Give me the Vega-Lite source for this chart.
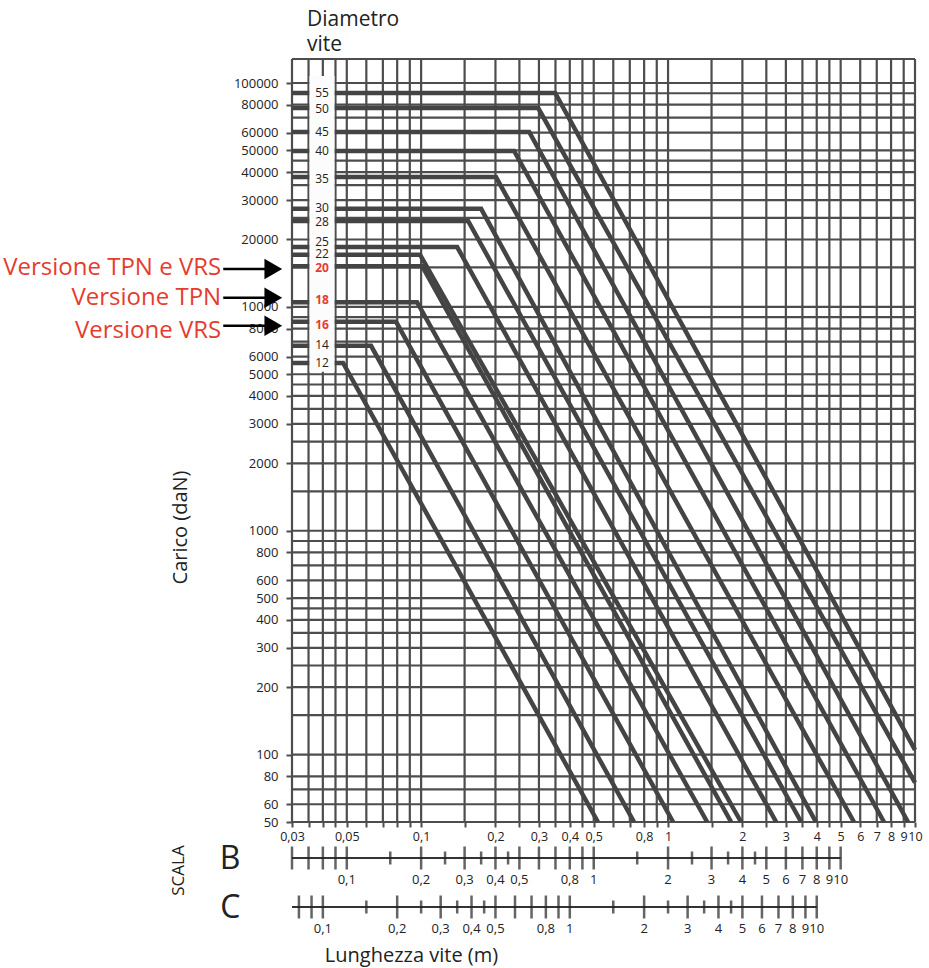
{
  "$schema": "https://vega.github.io/schema/vega-lite/v6.json",
  "width": 623,
  "height": 763,
  "autosize": {"type": "none"},
  "padding": {"left": 292, "top": 59, "right": 14, "bottom": 146},
  "background": "white",
  "config": {"view": {"stroke": null}, "font": "Open Sans", "text": {"font": "Open Sans"}},
  "title": {"text": ["Diametro", "vite"], "anchor": "start", "frame": "group", "dx": 15, "offset": 3, "fontSize": 21, "fontWeight": "normal", "font": "Open Sans", "color": "#222222", "lineHeight": 25},
  "datasets": {
    "vgrid": [{"L":0.03},{"L":0.035},{"L":0.04},{"L":0.045},{"L":0.05},{"L":0.06},{"L":0.07},{"L":0.08},{"L":0.09},{"L":0.1},{"L":0.15},{"L":0.2},{"L":0.25},{"L":0.3},{"L":0.35},{"L":0.4},{"L":0.45},{"L":0.5},{"L":0.6},{"L":0.7},{"L":0.8},{"L":0.9},{"L":1},{"L":1.5},{"L":2},{"L":2.5},{"L":3},{"L":3.5},{"L":4},{"L":4.5},{"L":5},{"L":6},{"L":7},{"L":8},{"L":9},{"L":10}],
    "hgrid": [{"P":50},{"P":60},{"P":70},{"P":80},{"P":100},{"P":150},{"P":200},{"P":250},{"P":300},{"P":350},{"P":400},{"P":450},{"P":500},{"P":600},{"P":700},{"P":800},{"P":900},{"P":1000},{"P":1500},{"P":2000},{"P":2500},{"P":3000},{"P":3500},{"P":4000},{"P":4500},{"P":5000},{"P":6000},{"P":7000},{"P":8000},{"P":9000},{"P":10000},{"P":15000},{"P":20000},{"P":25000},{"P":30000},{"P":35000},{"P":40000},{"P":45000},{"P":50000},{"P":60000},{"P":70000},{"P":80000},{"P":90000},{"P":100000},{"P":128000}],
    "curves": [
      {"d":55,"i":0,"L":0.03,"P":90200},{"d":55,"i":1,"L":0.349,"P":90200},{"d":55,"i":2,"L":10,"P":105},
      {"d":50,"i":0,"L":0.03,"P":77300},{"d":50,"i":1,"L":0.298,"P":77300},{"d":50,"i":2,"L":10,"P":75},
      {"d":45,"i":0,"L":0.03,"P":60400},{"d":45,"i":1,"L":0.274,"P":60400},{"d":45,"i":2,"L":9.37,"P":50},
      {"d":40,"i":0,"L":0.03,"P":49700},{"d":40,"i":1,"L":0.238,"P":49700},{"d":40,"i":2,"L":7.49,"P":50},
      {"d":35,"i":0,"L":0.03,"P":38000},{"d":35,"i":1,"L":0.201,"P":38000},{"d":35,"i":2,"L":5.66,"P":50},
      {"d":30,"i":0,"L":0.03,"P":27400},{"d":30,"i":1,"L":0.175,"P":27400},{"d":30,"i":2,"L":3.97,"P":50},
      {"d":28,"i":0,"L":0.03,"P":24200},{"d":28,"i":1,"L":0.155,"P":24200},{"d":28,"i":2,"L":3.46,"P":50},
      {"d":25,"i":0,"L":0.03,"P":18500},{"d":25,"i":1,"L":0.14,"P":18500},{"d":25,"i":2,"L":2.74,"P":50},
      {"d":22,"i":0,"L":0.03,"P":17100},{"d":22,"i":1,"L":0.099,"P":17100},{"d":22,"i":2,"L":1.975,"P":50},
      {"d":20,"i":0,"L":0.03,"P":15200},{"d":20,"i":1,"L":0.101,"P":15200},{"d":20,"i":2,"L":1.8,"P":50},
      {"d":18,"i":0,"L":0.03,"P":10500},{"d":18,"i":1,"L":0.0963,"P":10500},{"d":18,"i":2,"L":1.44,"P":50},
      {"d":16,"i":0,"L":0.03,"P":8570},{"d":16,"i":1,"L":0.0792,"P":8570},{"d":16,"i":2,"L":1.048,"P":50},
      {"d":14,"i":0,"L":0.03,"P":6700},{"d":14,"i":1,"L":0.0627,"P":6700},{"d":14,"i":2,"L":0.728,"P":50},
      {"d":12,"i":0,"L":0.03,"P":5620},{"d":12,"i":1,"L":0.0483,"P":5620},{"d":12,"i":2,"L":0.52,"P":50}
    ],
    "column": [{"L":0.0353,"L2":0.0446,"P":5130,"P2":107500}],
    "dlabels": [
      {"t":"55","L":0.0397,"P":90240,"r":0},{"t":"50","L":0.0397,"P":76550,"r":0},{"t":"45","L":0.0397,"P":60420,"r":0},{"t":"40","L":0.0397,"P":49720,"r":0},{"t":"35","L":0.0397,"P":37270,"r":0},{"t":"30","L":0.0397,"P":27670,"r":0},{"t":"28","L":0.0397,"P":23960,"r":0},{"t":"25","L":0.0397,"P":19510,"r":0},{"t":"22","L":0.0397,"P":17240,"r":0},{"t":"20","L":0.0397,"P":14930,"r":1},{"t":"18","L":0.0397,"P":10750,"r":1},{"t":"16","L":0.0397,"P":8310,"r":1},{"t":"14","L":0.0397,"P":6767,"r":0},{"t":"12","L":0.0397,"P":5620,"r":0}
    ],
    "notes": [{"t":"Versione TPN e VRS","L":0.0155,"P":14930},{"t":"Versione TPN","L":0.0155,"P":10970},{"t":"Versione VRS","L":0.0155,"P":7815}],
    "arrows": [{"L":0.0158,"L2":0.025,"P":14780},{"L":0.0158,"L2":0.025,"P":10970},{"L":0.0158,"L2":0.025,"P":8228}],
    "heads": [{"L":0.0252,"P":14780},{"L":0.0252,"P":10970},{"L":0.0252,"P":8228}],
    "bline": [{"v":0.06,"v2":10}],
    "bticks": [{"v":0.06,"k":"l"},{"v":0.07,"k":"l"},{"v":0.08,"k":"l"},{"v":0.09,"k":"l"},{"v":0.1,"k":"l"},{"v":0.15,"k":"s"},{"v":0.2,"k":"l"},{"v":0.25,"k":"s"},{"v":0.3,"k":"l"},{"v":0.35,"k":"s"},{"v":0.4,"k":"l"},{"v":0.45,"k":"s"},{"v":0.5,"k":"l"},{"v":0.6,"k":"l"},{"v":0.7,"k":"l"},{"v":0.8,"k":"l"},{"v":0.9,"k":"l"},{"v":1,"k":"l"},{"v":1.5,"k":"s"},{"v":2,"k":"l"},{"v":2.5,"k":"s"},{"v":3,"k":"l"},{"v":3.5,"k":"s"},{"v":4,"k":"l"},{"v":4.5,"k":"s"},{"v":5,"k":"l"},{"v":6,"k":"l"},{"v":7,"k":"l"},{"v":8,"k":"l"},{"v":9,"k":"l"},{"v":10,"k":"l"}],
    "blabels": [{"v":0.1,"t":"0,1"},{"v":0.2,"t":"0,2"},{"v":0.3,"t":"0,3"},{"v":0.4,"t":"0,4"},{"v":0.5,"t":"0,5"},{"v":0.8,"t":"0,8"},{"v":1,"t":"1"},{"v":2,"t":"2"},{"v":3,"t":"3"},{"v":4,"t":"4"},{"v":5,"t":"5"},{"v":6,"t":"6"},{"v":7,"t":"7"},{"v":8,"t":"8"},{"v":9,"t":"9"},{"v":10,"t":"10"}],
    "cline": [{"v":0.075,"v2":10}],
    "cticks": [{"v":0.08,"k":"l"},{"v":0.09,"k":"l"},{"v":0.1,"k":"l"},{"v":0.15,"k":"s"},{"v":0.2,"k":"l"},{"v":0.25,"k":"s"},{"v":0.3,"k":"l"},{"v":0.35,"k":"s"},{"v":0.4,"k":"l"},{"v":0.45,"k":"s"},{"v":0.5,"k":"l"},{"v":0.6,"k":"l"},{"v":0.7,"k":"l"},{"v":0.8,"k":"l"},{"v":0.9,"k":"l"},{"v":1,"k":"l"},{"v":1.5,"k":"s"},{"v":2,"k":"l"},{"v":2.5,"k":"s"},{"v":3,"k":"l"},{"v":3.5,"k":"s"},{"v":4,"k":"l"},{"v":4.5,"k":"s"},{"v":5,"k":"l"},{"v":6,"k":"l"},{"v":7,"k":"l"},{"v":8,"k":"l"},{"v":9,"k":"l"},{"v":10,"k":"l"}],
    "clabels": [{"v":0.1,"t":"0,1"},{"v":0.2,"t":"0,2"},{"v":0.3,"t":"0,3"},{"v":0.4,"t":"0,4"},{"v":0.5,"t":"0,5"},{"v":0.8,"t":"0,8"},{"v":1,"t":"1"},{"v":2,"t":"2"},{"v":3,"t":"3"},{"v":4,"t":"4"},{"v":5,"t":"5"},{"v":6,"t":"6"},{"v":7,"t":"7"},{"v":8,"t":"8"},{"v":9,"t":"9"},{"v":10,"t":"10"}]
  },
  "layer": [
    {
      "layer": [
        {
          "data": {"name": "vgrid"},
          "mark": {"type": "rule", "color": "#4d4d4d", "strokeWidth": 2.2},
          "encoding": {
            "x": {"field": "L", "type": "quantitative", "scale": {"type": "log", "domain": [0.03, 10], "nice": false},
              "axis": {"values": [0.03,0.035,0.04,0.045,0.05,0.06,0.07,0.08,0.09,0.1,0.15,0.2,0.25,0.3,0.35,0.4,0.45,0.5,0.6,0.7,0.8,0.9,1,1.5,2,2.5,3,3.5,4,4.5,5,6,7,8,9,10],
                "labelExpr": "indexof([0.03,0.05,0.1,0.2,0.3,0.4,0.5,0.8,1,2,3,4,5,6,7,8,9,10], datum.value) >= 0 ? replace(format(datum.value, ''), '.', ',') : ''",
                "labelOverlap": false, "labelFlush": false, "labelFontSize": 12.5, "labelColor": "#222222", "labelFont": "Open Sans", "labelPadding": 3,
                "tickSize": 5, "tickWidth": 2, "tickColor": "#4d4d4d", "domain": false, "grid": false,
                "title": "Lunghezza vite (m)", "titleX": 119, "titleY": 133, "titleAlign": "center", "titleBaseline": "middle", "titleFontSize": 20, "titleFontWeight": "normal", "titleFont": "Open Sans", "titleColor": "#222222"}}
          }
        },
        {
          "data": {"name": "hgrid"},
          "mark": {"type": "rule", "color": "#4d4d4d", "strokeWidth": 2.2},
          "encoding": {
            "y": {"field": "P", "type": "quantitative", "scale": {"type": "log", "domain": [50, 128000], "nice": false},
              "axis": {"values": [50,60,80,100,200,300,400,500,600,800,1000,2000,3000,4000,5000,6000,8000,10000,20000,30000,40000,50000,60000,80000,100000],
                "format": "d", "labelOverlap": false, "labelFontSize": 13, "labelColor": "#222222", "labelFont": "Open Sans", "labelPadding": 8,
                "tickSize": 6, "tickWidth": 2, "tickColor": "#4d4d4d", "domain": false, "grid": false,
                "title": "Carico (daN)", "titleX": -112, "titleY": 468, "titleAngle": 270, "titleAlign": "center", "titleBaseline": "middle", "titleFontSize": 20, "titleFontWeight": "normal", "titleFont": "Open Sans", "titleColor": "#222222"}}
          }
        },
        {
          "data": {"name": "curves"},
          "mark": {"type": "line", "color": "#444444", "strokeWidth": 4.5, "strokeJoin": "miter"},
          "encoding": {
            "x": {"field": "L", "type": "quantitative", "scale": {"type": "log", "domain": [0.03, 10], "nice": false}},
            "y": {"field": "P", "type": "quantitative", "scale": {"type": "log", "domain": [50, 128000], "nice": false}},
            "detail": {"field": "d", "type": "nominal"},
            "order": {"field": "i", "type": "quantitative"}
          }
        },
        {
          "data": {"name": "column"},
          "mark": {"type": "rect", "color": "#fcfcfc"},
          "encoding": {
            "x": {"field": "L", "type": "quantitative", "scale": {"type": "log", "domain": [0.03, 10], "nice": false}},
            "x2": {"field": "L2"},
            "y": {"field": "P", "type": "quantitative", "scale": {"type": "log", "domain": [50, 128000], "nice": false}},
            "y2": {"field": "P2"}
          }
        },
        {
          "data": {"name": "dlabels"},
          "transform": [{"filter": "datum.r == 0"}],
          "mark": {"type": "text", "fontSize": 12, "color": "#222222", "font": "Open Sans", "align": "center", "baseline": "middle"},
          "encoding": {
            "x": {"field": "L", "type": "quantitative", "scale": {"type": "log", "domain": [0.03, 10], "nice": false}},
            "y": {"field": "P", "type": "quantitative", "scale": {"type": "log", "domain": [50, 128000], "nice": false}},
            "text": {"field": "t"}
          }
        },
        {
          "data": {"name": "dlabels"},
          "transform": [{"filter": "datum.r == 1"}],
          "mark": {"type": "text", "fontSize": 12, "fontWeight": "bold", "color": "#e63c30", "font": "Open Sans", "align": "center", "baseline": "middle"},
          "encoding": {
            "x": {"field": "L", "type": "quantitative", "scale": {"type": "log", "domain": [0.03, 10], "nice": false}},
            "y": {"field": "P", "type": "quantitative", "scale": {"type": "log", "domain": [50, 128000], "nice": false}},
            "text": {"field": "t"}
          }
        },
        {
          "data": {"name": "notes"},
          "mark": {"type": "text", "fontSize": 24, "color": "#e63c30", "font": "Open Sans", "align": "right", "baseline": "middle"},
          "encoding": {
            "x": {"field": "L", "type": "quantitative", "scale": {"type": "log", "domain": [0.03, 10], "nice": false}},
            "y": {"field": "P", "type": "quantitative", "scale": {"type": "log", "domain": [50, 128000], "nice": false}},
            "text": {"field": "t"}
          }
        },
        {
          "data": {"name": "arrows"},
          "mark": {"type": "rule", "color": "#000000", "strokeWidth": 2.5},
          "encoding": {
            "x": {"field": "L", "type": "quantitative", "scale": {"type": "log", "domain": [0.03, 10], "nice": false}},
            "x2": {"field": "L2"},
            "y": {"field": "P", "type": "quantitative", "scale": {"type": "log", "domain": [50, 128000], "nice": false}}
          }
        },
        {
          "data": {"name": "heads"},
          "mark": {"type": "point", "shape": "triangle-right", "filled": true, "color": "#000000", "size": 420, "opacity": 1},
          "encoding": {
            "x": {"field": "L", "type": "quantitative", "scale": {"type": "log", "domain": [0.03, 10], "nice": false}},
            "y": {"field": "P", "type": "quantitative", "scale": {"type": "log", "domain": [50, 128000], "nice": false}}
          }
        }
      ]
    },
    {
      "layer": [
        {
          "data": {"name": "bline"},
          "mark": {"type": "rule", "color": "#333333", "strokeWidth": 2},
          "encoding": {
            "x": {"field": "v", "type": "quantitative", "scale": {"type": "log", "domain": [0.06, 20], "nice": false}, "axis": null},
            "x2": {"field": "v2"},
            "y": {"datum": "B", "type": "nominal", "scale": {"type": "point", "domain": ["B", "C"], "range": [799, 848], "padding": 0},
              "axis": {"orient": "left", "domain": false, "ticks": false, "grid": false, "labelFontSize": 32, "labelColor": "#222222", "labelFont": "Open Sans", "labelPadding": 52,
                "title": "SCALA", "titleX": -114, "titleY": 811, "titleAngle": 270, "titleAlign": "center", "titleBaseline": "middle", "titleFontSize": 17, "titleFontWeight": "normal", "titleFont": "Open Sans", "titleColor": "#222222"}}
          }
        },
        {
          "data": {"name": "bticks"},
          "mark": {"type": "tick", "color": "#222222", "thickness": 2.5},
          "encoding": {
            "x": {"field": "v", "type": "quantitative", "scale": {"type": "log", "domain": [0.06, 20], "nice": false}, "axis": null},
            "y": {"datum": "B", "type": "nominal", "scale": {"type": "point", "domain": ["B", "C"], "range": [799, 848], "padding": 0}},
            "size": {"field": "k", "type": "nominal", "scale": {"domain": ["l", "s"], "range": [23, 13]}, "legend": null}
          }
        },
        {
          "data": {"name": "blabels"},
          "mark": {"type": "text", "dy": 22, "fontSize": 13, "color": "#222222", "font": "Open Sans", "align": "center", "baseline": "middle"},
          "encoding": {
            "x": {"field": "v", "type": "quantitative", "scale": {"type": "log", "domain": [0.06, 20], "nice": false}, "axis": null},
            "y": {"datum": "B", "type": "nominal", "scale": {"type": "point", "domain": ["B", "C"], "range": [799, 848], "padding": 0}},
            "text": {"field": "t"}
          }
        }
      ]
    },
    {
      "layer": [
        {
          "data": {"name": "cline"},
          "mark": {"type": "rule", "color": "#333333", "strokeWidth": 2},
          "encoding": {
            "x": {"field": "v", "type": "quantitative", "scale": {"type": "log", "domain": [0.075, 25], "nice": false}, "axis": null},
            "x2": {"field": "v2"},
            "y": {"datum": "C", "type": "nominal", "scale": {"type": "point", "domain": ["B", "C"], "range": [799, 848], "padding": 0}, "axis": null}
          }
        },
        {
          "data": {"name": "cticks"},
          "mark": {"type": "tick", "color": "#222222", "thickness": 2.5},
          "encoding": {
            "x": {"field": "v", "type": "quantitative", "scale": {"type": "log", "domain": [0.075, 25], "nice": false}, "axis": null},
            "y": {"datum": "C", "type": "nominal", "scale": {"type": "point", "domain": ["B", "C"], "range": [799, 848], "padding": 0}, "axis": null},
            "size": {"field": "k", "type": "nominal", "scale": {"domain": ["l", "s"], "range": [23, 13]}, "legend": null}
          }
        },
        {
          "data": {"name": "clabels"},
          "mark": {"type": "text", "dy": 22, "fontSize": 13, "color": "#222222", "font": "Open Sans", "align": "center", "baseline": "middle"},
          "encoding": {
            "x": {"field": "v", "type": "quantitative", "scale": {"type": "log", "domain": [0.075, 25], "nice": false}, "axis": null},
            "y": {"datum": "C", "type": "nominal", "scale": {"type": "point", "domain": ["B", "C"], "range": [799, 848], "padding": 0}, "axis": null},
            "text": {"field": "t"}
          }
        }
      ]
    }
  ],
  "resolve": {"scale": {"x": "independent", "y": "independent"}}
}
